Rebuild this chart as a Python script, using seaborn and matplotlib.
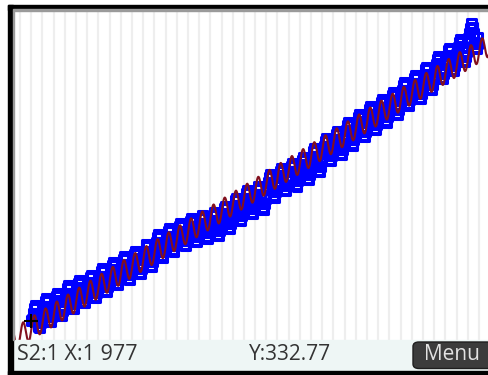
import numpy as np
import pandas as pd
import matplotlib
matplotlib.use("Agg")
import matplotlib.pyplot as plt
from matplotlib.patches import Rectangle, FancyBboxPatch
import seaborn as sns

# S2: monthly CO2 (ppm), one row per year, Jan..Dec
s2_years = list(range(1977, 2017))
s2_ppm = [
    [332.77, 333.24, 334.53, 335.90, 336.57, 336.10, 334.76, 332.59, 331.42, 330.98, 332.24, 333.68],
    [334.5, 335.0, 336.3, 337.6, 338.3, 337.8, 336.4, 334.2, 332.9, 332.6, 333.9, 335.3],
    [335.9, 336.4, 337.7, 339.0, 339.7, 339.2, 337.8, 335.6, 334.3, 334.0, 335.3, 336.7],
    [337.8, 338.3, 339.6, 340.9, 341.6, 341.1, 339.7, 337.5, 336.2, 335.9, 337.2, 338.6],
    [339.2, 339.7, 341.0, 342.3, 343.0, 342.5, 341.1, 338.9, 337.6, 337.3, 338.6, 340.0],
    [340.5, 341.0, 342.3, 343.6, 344.3, 343.8, 342.4, 340.2, 338.9, 338.6, 339.9, 341.3],
    [342.1, 342.6, 343.9, 345.2, 345.9, 345.4, 344.0, 341.8, 340.5, 340.2, 341.5, 342.9],
    [343.7, 344.2, 345.5, 346.8, 347.5, 347.0, 345.6, 343.4, 342.1, 341.8, 343.1, 344.5],
    [345.1, 345.6, 346.9, 348.2, 348.9, 348.4, 347.0, 344.8, 343.5, 343.2, 344.5, 345.9],
    [346.5, 347.0, 348.3, 349.6, 350.3, 349.8, 348.4, 346.2, 344.9, 344.6, 345.9, 347.3],
    [348.3, 348.8, 350.1, 351.4, 352.1, 351.6, 350.2, 348.0, 346.7, 346.4, 347.7, 349.1],
    [350.7, 351.2, 352.5, 353.8, 354.5, 354.0, 352.6, 350.4, 349.1, 348.8, 350.1, 351.5],
    [352.2, 352.7, 354.0, 355.3, 356.0, 355.5, 354.1, 351.9, 350.6, 350.3, 351.6, 353.0],
    [353.5, 354.0, 355.3, 356.6, 357.3, 356.8, 355.4, 353.2, 351.9, 351.6, 352.9, 354.3],
    [354.7, 355.2, 356.5, 357.8, 358.5, 358.0, 356.6, 354.4, 353.1, 352.8, 354.1, 355.5],
    [355.5, 356.0, 357.3, 358.6, 359.3, 358.8, 357.4, 355.2, 353.9, 353.6, 354.9, 356.3],
    [356.2, 356.7, 358.0, 359.3, 360.0, 359.5, 358.1, 355.9, 354.6, 354.3, 355.6, 357.0],
    [357.9, 358.4, 359.7, 361.0, 361.7, 361.2, 359.8, 357.6, 356.3, 356.0, 357.3, 358.7],
    [359.9, 360.4, 361.7, 363.0, 363.7, 363.2, 361.8, 359.6, 358.3, 358.0, 359.3, 360.7],
    [361.7, 362.2, 363.5, 364.8, 365.5, 365.0, 363.6, 361.4, 360.1, 359.8, 361.1, 362.5],
    [362.8, 363.3, 364.6, 365.9, 366.6, 366.1, 364.7, 362.5, 361.2, 360.9, 362.2, 363.6],
    [365.8, 366.3, 367.6, 368.9, 369.6, 369.1, 367.7, 365.5, 364.2, 363.9, 365.2, 366.6],
    [367.4, 367.9, 369.2, 370.5, 371.2, 370.7, 369.3, 367.1, 365.8, 365.5, 366.8, 368.2],
    [368.6, 369.1, 370.4, 371.7, 372.4, 371.9, 370.5, 368.3, 367.0, 366.7, 368.0, 369.4],
    [370.2, 370.7, 372.0, 373.3, 374.0, 373.5, 372.1, 369.9, 368.6, 368.3, 369.6, 371.0],
    [372.3, 372.8, 374.1, 375.4, 376.1, 375.6, 374.2, 372.0, 370.7, 370.4, 371.7, 373.1],
    [374.9, 375.4, 376.7, 378.0, 378.7, 378.2, 376.8, 374.6, 373.3, 373.0, 374.3, 375.7],
    [376.6, 377.1, 378.4, 379.7, 380.4, 379.9, 378.5, 376.3, 375.0, 374.7, 376.0, 377.4],
    [378.9, 379.4, 380.7, 382.0, 382.7, 382.2, 380.8, 378.6, 377.3, 377.0, 378.3, 379.7],
    [381.0, 381.5, 382.8, 384.1, 384.8, 384.3, 382.9, 380.7, 379.4, 379.1, 380.4, 381.8],
    [382.9, 383.4, 384.7, 386.0, 386.7, 386.2, 384.8, 382.6, 381.3, 381.0, 382.3, 383.7],
    [384.7, 385.2, 386.5, 387.8, 388.5, 388.0, 386.6, 384.4, 383.1, 382.8, 384.1, 385.5],
    [386.5, 387.0, 388.3, 389.6, 390.3, 389.8, 388.4, 386.2, 384.9, 384.6, 385.9, 387.3],
    [389.0, 389.5, 390.8, 392.1, 392.8, 392.3, 390.9, 388.7, 387.4, 387.1, 388.4, 389.8],
    [390.7, 391.2, 392.5, 393.8, 394.5, 394.0, 392.6, 390.4, 389.1, 388.8, 390.1, 391.5],
    [392.9, 393.4, 394.7, 396.0, 396.7, 396.2, 394.8, 392.6, 391.3, 391.0, 392.3, 393.7],
    [395.6, 396.1, 397.4, 398.7, 399.4, 398.9, 397.5, 395.3, 394.0, 393.7, 395.0, 396.4],
    [397.7, 398.2, 399.5, 400.8, 401.5, 401.0, 399.6, 397.4, 396.1, 395.8, 397.1, 398.5],
    [399.9, 400.4, 401.7, 403.0, 403.7, 403.2, 401.8, 399.6, 398.3, 398.0, 399.3, 400.7],
    [403.3, 403.8, 405.1, 406.4, 407.7, 406.6, 405.2, 403.0, 401.7, 401.4, 402.7, 404.1],
]
month_frac = [m / 12 for m in range(12)]

# decimal date per observation
s2 = pd.DataFrame(
    [(y + f, v) for y, row in zip(s2_years, s2_ppm) for f, v in zip(month_frac, row)],
    columns=["date", "ppm"],
)

# window of the plot (years, ppm)
x_range = (1975.375, 2018.25)
y_range = (327.94, 411.06)

# least-squares fit: linear trend + annual sinusoid
t = s2["date"].to_numpy()
design = np.column_stack([np.ones_like(t), t - 1997.0, np.sin(2 * np.pi * t), np.cos(2 * np.pi * t)])
coef, *_ = np.linalg.lstsq(design, s2["ppm"].to_numpy(), rcond=None)
t_fit = np.linspace(x_range[0], x_range[1], 960)
fit = pd.DataFrame({
    "date": t_fit,
    "ppm": coef[0] + coef[1] * (t_fit - 1997.0)
    + coef[2] * np.sin(2 * np.pi * t_fit) + coef[3] * np.cos(2 * np.pi * t_fit),
})

W, H = 488, 375
sns.set_theme(style="white")
plt.rcParams["font.family"] = ["Open Sans", "DejaVu Sans"]

fig = plt.figure(figsize=(W / 100, H / 100), dpi=100)
fig.patch.set_facecolor("white")


def fx(px):
    return px / W


def fy(py):
    return 1 - py / H


# plot window of the calculator screen
ax = fig.add_axes([fx(13), fy(340), 480 / W, 330 / H])
ax.set_facecolor("white")
ax.set_xlim(*x_range)
ax.set_ylim(*y_range)
ax.set_xticks(range(1976, 2019))
ax.set_yticks([])
ax.tick_params(length=0, labelbottom=False, labelleft=False)
ax.grid(axis="x", color="#eeeeee", linewidth=1.6)
ax.set_axisbelow(True)
for s in ax.spines.values():
    s.set_visible(False)

sns.scatterplot(
    data=s2, x="date", y="ppm", ax=ax, marker="s", s=40,
    facecolor="none", edgecolor="#0000ff", linewidth=2.2, zorder=3, legend=False,
)
sns.lineplot(
    data=fit, x="date", y="ppm", ax=ax, sort=False, estimator=None,
    color="#82101e", linewidth=1.5, zorder=4, legend=False,
)
# trace cursor on S2 point 1
ax.plot(s2["date"].iloc[0], s2["ppm"].iloc[0], marker="+", ms=9.5, mew=1.5,
        color="black", zorder=5)
ax.set_xlabel("")
ax.set_ylabel("")

# screen frame
fig.patches.append(Rectangle((fx(8), fy(375)), fx(5), 370 / H, transform=fig.transFigure,
                             color="black", zorder=10))
fig.patches.append(Rectangle((fx(8), fy(9.5)), 480 / W, 4.5 / H, transform=fig.transFigure,
                             color="black", zorder=10))
fig.patches.append(Rectangle((fx(13), fy(11)), 475 / W, 1.5 / H, transform=fig.transFigure,
                             color="#9a9a9a", zorder=10))
fig.patches.append(Rectangle((fx(13), fy(340)), 1.2 / W, 329 / H, transform=fig.transFigure,
                             color="#9a9a9a", zorder=10))
fig.patches.append(Rectangle((fx(8), fy(375)), 480 / W, 4.5 / H, transform=fig.transFigure,
                             color="black", zorder=10))

# status bar
fig.patches.append(Rectangle((fx(13), fy(370.5)), 475 / W, 30.5 / H, transform=fig.transFigure,
                             color="#eef6f5", zorder=9))
fig.text(fx(17), fy(355), "S2:1 X:1 977", fontsize=15.5, color="#333333",
         va="center", ha="left", zorder=11)
fig.text(fx(249), fy(355), "Y:332.77", fontsize=15, color="#333333",
         va="center", ha="left", zorder=11)
fig.patches.append(FancyBboxPatch((fx(413), fy(368.5)), 80 / W, 26.5 / H,
                                  boxstyle="round,pad=0,rounding_size=0.012",
                                  transform=fig.transFigure, facecolor="#3c3c3c",
                                  edgecolor="#1e1e1e", linewidth=1.0, zorder=11))
fig.text(fx(452), fy(355), "Menu", fontsize=15, color="#e2e2e2",
         va="center", ha="center", zorder=12)

fig.savefig("out.png", dpi=100)
